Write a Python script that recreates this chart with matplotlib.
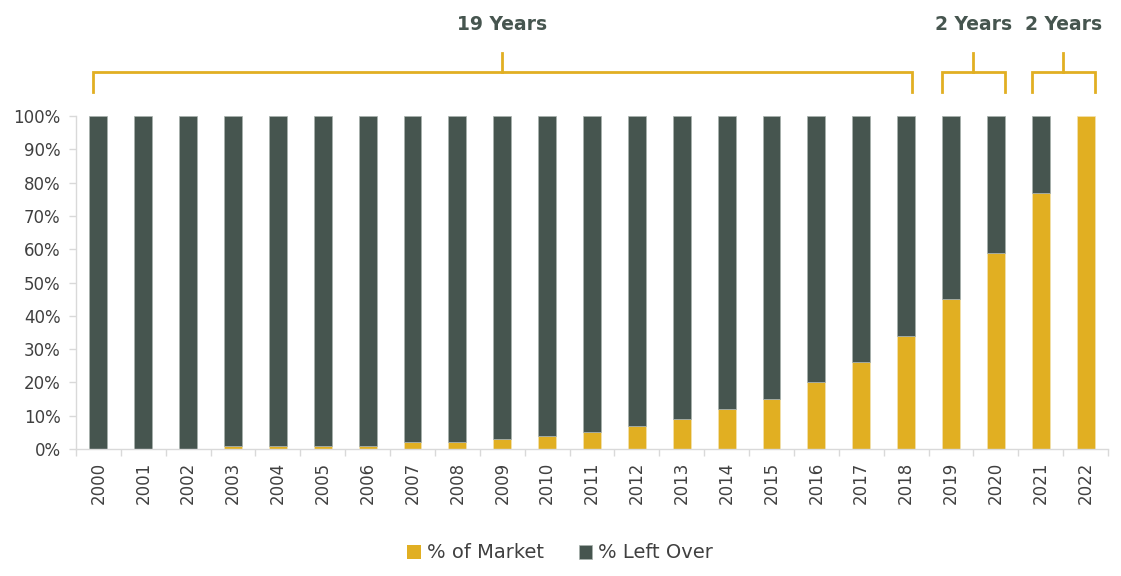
import matplotlib
matplotlib.use("Agg")
import matplotlib.pyplot as plt
import numpy as np

years = [str(y) for y in range(2000, 2023)]
pct_market = [0, 0, 0, 1, 1, 1, 1, 2, 2, 3, 4, 5, 7, 9, 12, 15, 20, 26, 34, 45, 59, 77, 100]
pct_left = [100 - v for v in pct_market]
y_ticks = list(range(0, 101, 10))

brackets = [  # (label, first index, last index)
    ("19 Years", 0, 18),
    ("2 Years", 19, 20),
    ("2 Years", 21, 22),
]

GOLD = "#E1AF22"
DARK = "#46554F"
TXT = "#404040"
GRID = "#D9D9D9"

plt.rcParams['font.family'] = ['DejaVu Sans']

fig = plt.figure(figsize=(11.21, 5.76), dpi=100)
ax = fig.add_axes([76/1121, 1 - 449/576, (1108-76)/1121, (449-116)/576])

x = np.arange(len(years))
w = 0.4
lw_m = [0.5 if v > 0 else 0 for v in pct_market]
lw_l = [0.5 if v > 0 else 0 for v in pct_left]
ax.bar(x, pct_market, width=w, color=GOLD, edgecolor="#F2E2B0", linewidth=lw_m, label="% of Market")
ax.bar(x, pct_left, width=w, bottom=pct_market, color=DARK, edgecolor="#A9B2AE", linewidth=lw_l, label="% Left Over")

ax.set_xlim(-0.5, len(years) - 0.5)
ax.set_ylim(0, 100)
ax.set_yticks(y_ticks)
ax.set_yticklabels([f"{v}%" for v in y_ticks], fontsize=12, color=TXT)
ax.set_xticks(x)
ax.set_xticklabels(years, rotation=90, fontsize=12, color=TXT)
ax.set_xticks(np.arange(-0.5, len(years), 1), minor=True)
ax.tick_params(axis='x', which='major', length=0, pad=9)
ax.tick_params(axis='x', which='minor', length=5, color=GRID, width=1)
ax.tick_params(axis='y', length=5, color=GRID, width=1, pad=6)
for s in ['top', 'right']:
    ax.spines[s].set_visible(False)
for s in ['left', 'bottom']:
    ax.spines[s].set_color(GRID)
    ax.spines[s].set_linewidth(1)

# brackets above the bars
def ypix(py):
    return (449 - py) / 333 * 100

for label, i0, i1 in brackets:
    off = 0.13 if (i1 - i0) > 2 else 0.2
    xl = i0 - off
    xr = i1 + off
    xc = (xl + xr) / 2
    yh = ypix(72)
    yb = ypix(92)
    yt = ypix(53)
    ax.plot([xl, xl, xr, xr], [yb, yh, yh, yb], color=GOLD, lw=2, clip_on=False,
            solid_joinstyle='miter')
    ax.plot([xc, xc], [yh, yt], color=GOLD, lw=2, clip_on=False)
    ax.text(xc, ypix(24), label, ha='center', va='center', fontsize=13.5,
            fontweight='bold', color=DARK, clip_on=False)

leg = fig.legend(loc='center', bbox_to_anchor=(560/1121, 1 - 553/576), ncol=2,
                 frameon=False, fontsize=14, handlelength=0.7, handleheight=0.7,
                 handletextpad=0.3, columnspacing=1.8)
for t in leg.get_texts():
    t.set_color(TXT)

fig.savefig("out.png", dpi=100)
